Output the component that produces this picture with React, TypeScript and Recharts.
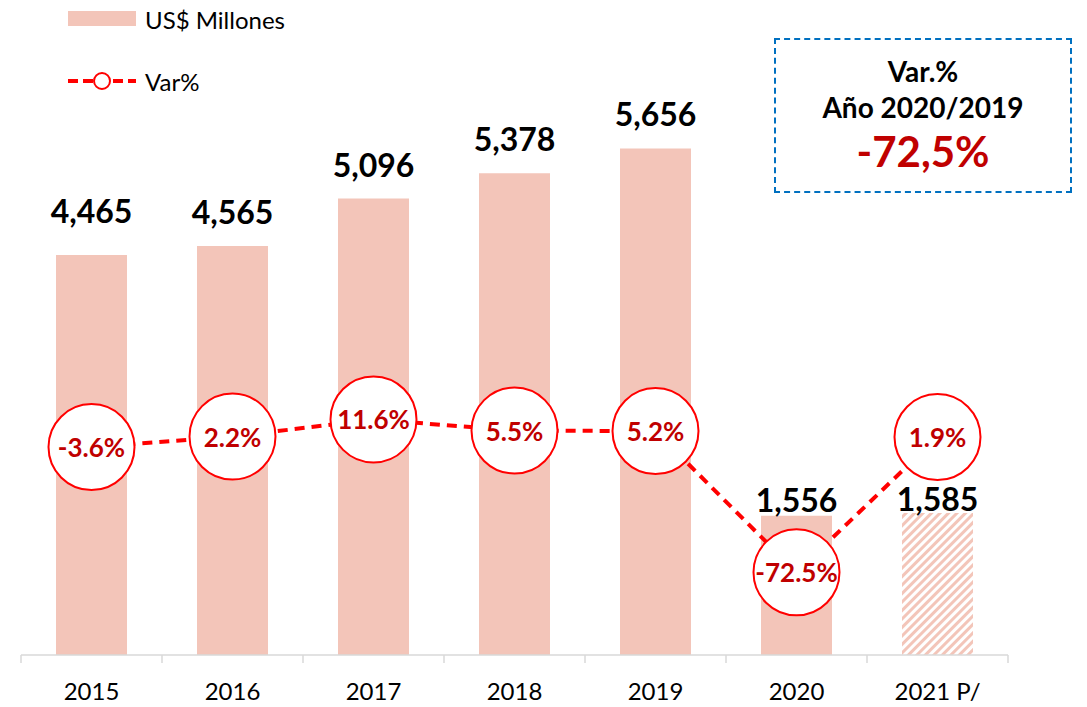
import React from 'react';
import { ComposedChart, Bar, Line, XAxis, YAxis, Cell, LabelList, Legend } from 'recharts';

const years = ['2015', '2016', '2017', '2018', '2019', '2020', '2021 P/'];
const millones = [4465, 4565, 5096, 5378, 5656, 1556, 1585];
const varPct = [-3.6, 2.2, 11.6, 5.5, 5.2, -72.5, 1.9];
const projected = [false, false, false, false, false, false, true];
// how far each value label sits above its bar (the original had a few moved by hand)
const labelGap = [32, 22, 22, 22, 22, 4, 2];

const data = years.map((year, i) => ({
  year,
  millones: millones[i],
  varPct: varPct[i],
}));

const BAR = '#F3C5B9';
const RED = '#FF0000';
const DARK_RED = '#C00000';
const FONT = 'Lato, "Open Sans", sans-serif';

const fmtMillones = (v: number) => v.toLocaleString('en-US');

const YearTick = (props: any) => {
  const { x, y, payload, index, width, visibleTicksCount } = props;
  const half = width / visibleTicksCount / 2;
  return (
    <g>
      <line x1={x - half} x2={x - half} y1={y} y2={y + 8} stroke="#D9D9D9" strokeWidth={1.5} />
      {index === visibleTicksCount - 1 && (
        <line x1={x + half} x2={x + half} y1={y} y2={y + 8} stroke="#D9D9D9" strokeWidth={1.5} />
      )}
      <text x={x} y={y + 45} textAnchor="middle" fontSize={24} fill="#000" fontFamily={FONT}>
        {payload.value}
      </text>
    </g>
  );
};

const BarValue = (props: any) => {
  const { x, y, width, value, index } = props;
  return (
    <text x={x + width / 2} y={y - labelGap[index]} textAnchor="middle" fontSize={32} fontWeight={700} fill="#000" fontFamily={FONT}>
      {fmtMillones(value)}
    </text>
  );
};

const PctDot = (props: any) => {
  const { cx, cy } = props;
  return <circle cx={cx} cy={cy} r={43} fill="#fff" stroke={RED} strokeWidth={2} />;
};

const PctLabel = (props: any) => {
  const { x, y, value } = props;
  return (
    <text x={x} y={y} textAnchor="middle" dominantBaseline="central" fontSize={26} fontWeight={700} fill={DARK_RED} fontFamily={FONT}>
      {value.toFixed(1)}%
    </text>
  );
};

const LegendBox = (props: any) => {
  const { payload } = props;
  return (
    <div style={{ fontFamily: FONT, fontSize: 24, color: '#000' }}>
      {payload.map((entry: any) => (
        <div key={entry.value} style={{ display: 'flex', alignItems: 'center', height: 62 }}>
          <svg width={77} height={20}>
            {entry.type === 'rect' ? (
              <rect x={0} y={2} width={68} height={15} fill={BAR} />
            ) : (
              <g>
                <line x1={0} x2={68} y1={10} y2={10} stroke={RED} strokeWidth={4} strokeDasharray="10 5" />
                <circle cx={34} cy={10} r={8} fill="#fff" stroke={RED} strokeWidth={2} />
              </g>
            )}
          </svg>
          <span>{entry.value}</span>
        </div>
      ))}
    </div>
  );
};

export default function App() {
  return (
    <div style={{ position: 'absolute', left: 0, top: 0, width: 1087, height: 707, fontFamily: FONT }}>
      <svg width={0} height={0} style={{ position: 'absolute' }}>
        <defs>
          <pattern id="hatch" width={6} height={6} patternUnits="userSpaceOnUse" patternTransform="rotate(45)">
            <rect x={0} y={0} width={3} height={6} fill={BAR} />
          </pattern>
        </defs>
      </svg>
      <ComposedChart width={1087} height={707} data={data} margin={{ top: 28, right: 79, left: 21, bottom: 0 }}>
        <XAxis
          dataKey="year"
          height={52}
          axisLine={{ stroke: '#D9D9D9', strokeWidth: 1.5 }}
          tickLine={false}
          tickSize={0}
          tickMargin={0}
          tick={<YearTick />}
          interval={0}
        />
        <YAxis yAxisId="left" hide width={0} domain={[0, 7000]} />
        <YAxis yAxisId="right" orientation="right" hide width={0} domain={[-118, 227]} />
        <Legend
          layout="vertical"
          align="center"
          verticalAlign="middle"
          content={<LegendBox />}
          wrapperStyle={{ top: -12, left: 68, width: 300 }}
        />
        <Bar yAxisId="left" dataKey="millones" name="US$ Millones" fill={BAR} barSize={71} isAnimationActive={false} legendType="rect">
          {data.map((d, i) => (
            <Cell key={d.year} fill={projected[i] ? 'url(#hatch)' : BAR} />
          ))}
          <LabelList dataKey="millones" content={<BarValue />} />
        </Bar>
        <Line
          yAxisId="right"
          dataKey="varPct"
          name="Var%"
          stroke={RED}
          strokeWidth={4}
          strokeDasharray="10 7"
          dot={<PctDot />}
          activeDot={false}
          legendType="line"
          isAnimationActive={false}
        >
          <LabelList dataKey="varPct" content={<PctLabel />} />
        </Line>
      </ComposedChart>
      <div
        style={{
          position: 'absolute',
          left: 774,
          top: 38,
          width: 294,
          height: 151,
          border: '2px dashed #0070C0',
          textAlign: 'center',
          fontWeight: 700,
        }}
      >
        <div style={{ fontSize: 28, marginTop: 13, lineHeight: '36px' }}>Var.%</div>
        <div style={{ fontSize: 28, lineHeight: '36px' }}>Año 2020/2019</div>
        <div style={{ fontSize: 42, lineHeight: '52px', color: DARK_RED }}>-72,5%</div>
      </div>
    </div>
  );
}
